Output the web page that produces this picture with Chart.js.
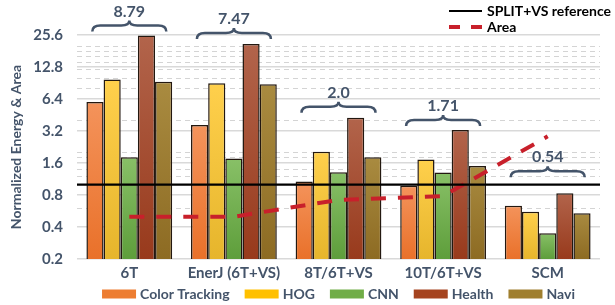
<!DOCTYPE html>
<html>
<head>
<meta charset="utf-8">
<script src="https://cdn.jsdelivr.net/npm/chart.js@4"></script>
<style>
  html, body { margin: 0; padding: 0; background: #fff; }
  #wrap { width: 615px; height: 305px; }
</style>
</head>
<body>
<div id="wrap"><canvas id="chart" width="615" height="305"></canvas></div>
<script>
const categories = ['6T', 'EnerJ (6T+VS)', '8T/6T+VS', '10T/6T+VS', 'SCM'];
const colorTracking = [6.0, 3.64, 1.07, 0.98, 0.635];
const hog = [9.76, 9.0, 2.04, 1.73, 0.557];
const cnn = [1.81, 1.76, 1.31, 1.30, 0.35];
const health = [25.3, 21.1, 4.27, 3.27, 0.83];
const navi = [9.3, 8.8, 1.81, 1.5, 0.54];
const area = [0.5, 0.5, 0.72, 0.78, 2.85];
const braceLabels = ['8.79', '7.47', '2.0', '1.71', '0.54'];
const majorTicks = [0.2, 0.4, 0.8, 1.6, 3.2, 6.4, 12.8, 25.6];
const minorTicks = [0.6, 1.2, 1.4, 1.8, 2, 4, 8, 10, 12, 14, 16, 18, 20];
const referenceValue = 1.0;

const slate = '#44546A';
const font = 'Lato, "Open Sans", sans-serif';
// extra pixel gap between the tallest bar and each brace
const braceLift = [4, 5, 5, 4, 16];

function barFill(top, bottom) {
    return function(ctx) {
        const chart = ctx.chart;
        const ca = chart.chartArea;
        if (!ca || ctx.type !== 'data') return bottom;
        const yTop = chart.scales.y.getPixelForValue(ctx.raw);
        if (!isFinite(yTop)) return bottom;
        const g = chart.ctx.createLinearGradient(0, yTop, 0, ca.bottom);
        g.addColorStop(0, top);
        g.addColorStop(1, bottom);
        return g;
    };
}

const series = [
    { label: 'Color Tracking', data: colorTracking, top: '#F4935B', bottom: '#E9712A', swatch: '#ED7D31' },
    { label: 'HOG', data: hog, top: '#FFD04C', bottom: '#E6B52C', swatch: '#FFC000' },
    { label: 'CNN', data: cnn, top: '#88C067', bottom: '#5E9E3B', swatch: '#70AD47' },
    { label: 'Health', data: health, top: '#B2644B', bottom: '#983A1C', swatch: '#A5431F' },
    { label: 'Navi', data: navi, top: '#A98B40', bottom: '#8D6B23', swatch: '#A07F2E' }
];

const barSets = series.map(s => ({
    type: 'bar',
    label: s.label,
    data: s.data,
    backgroundColor: barFill(s.top, s.bottom),
    borderColor: '#231810',
    borderWidth: 1.5,
    categoryPercentage: 0.82,
    barPercentage: 1.0,
    order: 1
}));

const areaSet = {
    type: 'line',
    label: 'Area',
    data: area,
    borderColor: '#C8202B',
    borderWidth: 4,
    borderDash: [15, 12],
    pointRadius: 0,
    tension: 0,
    fill: false,
    order: 0
};

const overlay = {
    id: 'overlay',
    afterDraw(chart) {
        const ctx = chart.ctx;
        const ca = chart.chartArea;
        const x = chart.scales.x;
        const y = chart.scales.y;

        // SPLIT+VS reference line
        const yRef = y.getPixelForValue(referenceValue);
        ctx.save();
        ctx.strokeStyle = '#000';
        ctx.lineWidth = 2.2;
        ctx.beginPath();
        ctx.moveTo(ca.left, yRef);
        ctx.lineTo(ca.right, yRef);
        ctx.stroke();

        // braces with labels
        ctx.strokeStyle = slate;
        ctx.fillStyle = slate;
        ctx.lineWidth = 2.5;
        ctx.font = 'bold 16px ' + font;
        ctx.textAlign = 'center';
        ctx.textBaseline = 'middle';
        categories.forEach((c, i) => {
            const xc = x.getPixelForValue(i);
            const maxVal = Math.max(...series.map(s => s.data[i]));
            const yEnd = y.getPixelForValue(maxVal) - braceLift[i];
            const yMid = yEnd - 6;
            const yTip = yMid - 5;
            const x0 = xc - 37, x1 = xc + 37, r = 8;
            ctx.beginPath();
            ctx.moveTo(x0, yEnd);
            ctx.quadraticCurveTo(x0, yMid, x0 + r, yMid);
            ctx.lineTo(xc - r, yMid);
            ctx.quadraticCurveTo(xc, yMid, xc, yTip);
            ctx.quadraticCurveTo(xc, yMid, xc + r, yMid);
            ctx.lineTo(x1 - r, yMid);
            ctx.quadraticCurveTo(x1, yMid, x1, yEnd);
            ctx.stroke();
            ctx.fillText(braceLabels[i], xc, yEnd - 20);
        });

        // top-right legend for the two lines
        const lx = ca.right - 151;
        ctx.font = 'bold 14px ' + font;
        ctx.textAlign = 'left';
        ctx.fillStyle = '#000';
        ctx.strokeStyle = '#000';
        ctx.lineWidth = 2;
        ctx.beginPath();
        ctx.moveTo(lx, 11);
        ctx.lineTo(lx + 33, 11);
        ctx.stroke();
        ctx.fillText('SPLIT+VS reference', lx + 38, 11);
        ctx.strokeStyle = '#C8202B';
        ctx.lineWidth = 4;
        ctx.setLineDash([11, 11]);
        ctx.beginPath();
        ctx.moveTo(lx, 27);
        ctx.lineTo(lx + 33, 27);
        ctx.stroke();
        ctx.setLineDash([]);
        ctx.fillText('Area', lx + 38, 27);

        // bottom legend for the bar series, centred under the plot
        const sw = 34, gap = 4, spacing = 15, ly = chart.height - 11;
        ctx.font = 'bold 14px ' + font;
        const widths = series.map(s => sw + gap + ctx.measureText(s.label).width);
        const total = widths.reduce((a, b) => a + b, 0) + spacing * (series.length - 1);
        let cx = (ca.left + ca.right) / 2 - total / 2;
        series.forEach((s, i) => {
            ctx.fillStyle = s.swatch;
            ctx.fillRect(cx, ly - 4.5, sw, 9);
            ctx.fillStyle = slate;
            ctx.fillText(s.label, cx + sw + gap, ly);
            cx += widths[i] + spacing;
        });
        ctx.restore();
    }
};

const isMajor = v => majorTicks.some(m => Math.abs(m - v) < 1e-9);

new Chart(document.getElementById('chart').getContext('2d'), {
    data: {
        labels: categories,
        datasets: [areaSet, ...barSets]
    },
    options: {
        responsive: false,
        animation: false,
        layout: { padding: { top: 35, right: 15, left: 0, bottom: 20 } },
        scales: {
            x: {
                grid: { display: false, drawTicks: false },
                border: { display: false },
                ticks: {
                    color: slate,
                    font: { family: font, size: 15, weight: 'bold' },
                    padding: 5
                },
                afterFit: s => { s.height = 26; }
            },
            y: {
                type: 'logarithmic',
                min: 0.2,
                max: 25.6,
                afterBuildTicks: s => {
                    s.ticks = [...majorTicks, ...minorTicks].sort((a, b) => a - b).map(v => ({ value: v }));
                },
                afterFit: s => { s.width = 77; },
                grid: {
                    drawTicks: false,
                    color: ctx => isMajor(ctx.tick.value) ? '#D9D9D9' : '#D4D4D4',
                    lineWidth: ctx => isMajor(ctx.tick.value) ? 1.5 : 1
                },
                border: {
                    display: false,
                    dash: ctx => isMajor(ctx.tick.value) ? [] : [5, 4]
                },
                ticks: {
                    autoSkip: false,
                    padding: 14,
                    color: slate,
                    font: { family: font, size: 15, weight: 'bold' },
                    callback: v => isMajor(v) ? v.toFixed(1) : ''
                },
                title: {
                    display: true,
                    text: 'Normalized Energy & Area',
                    color: slate,
                    font: { family: font, size: 14, weight: 'bold' },
                    padding: { top: 8, bottom: 0 }
                }
            }
        },
        plugins: {
            legend: { display: false },
            tooltip: { enabled: false }
        }
    },
    plugins: [overlay]
});
</script>
</body>
</html>
